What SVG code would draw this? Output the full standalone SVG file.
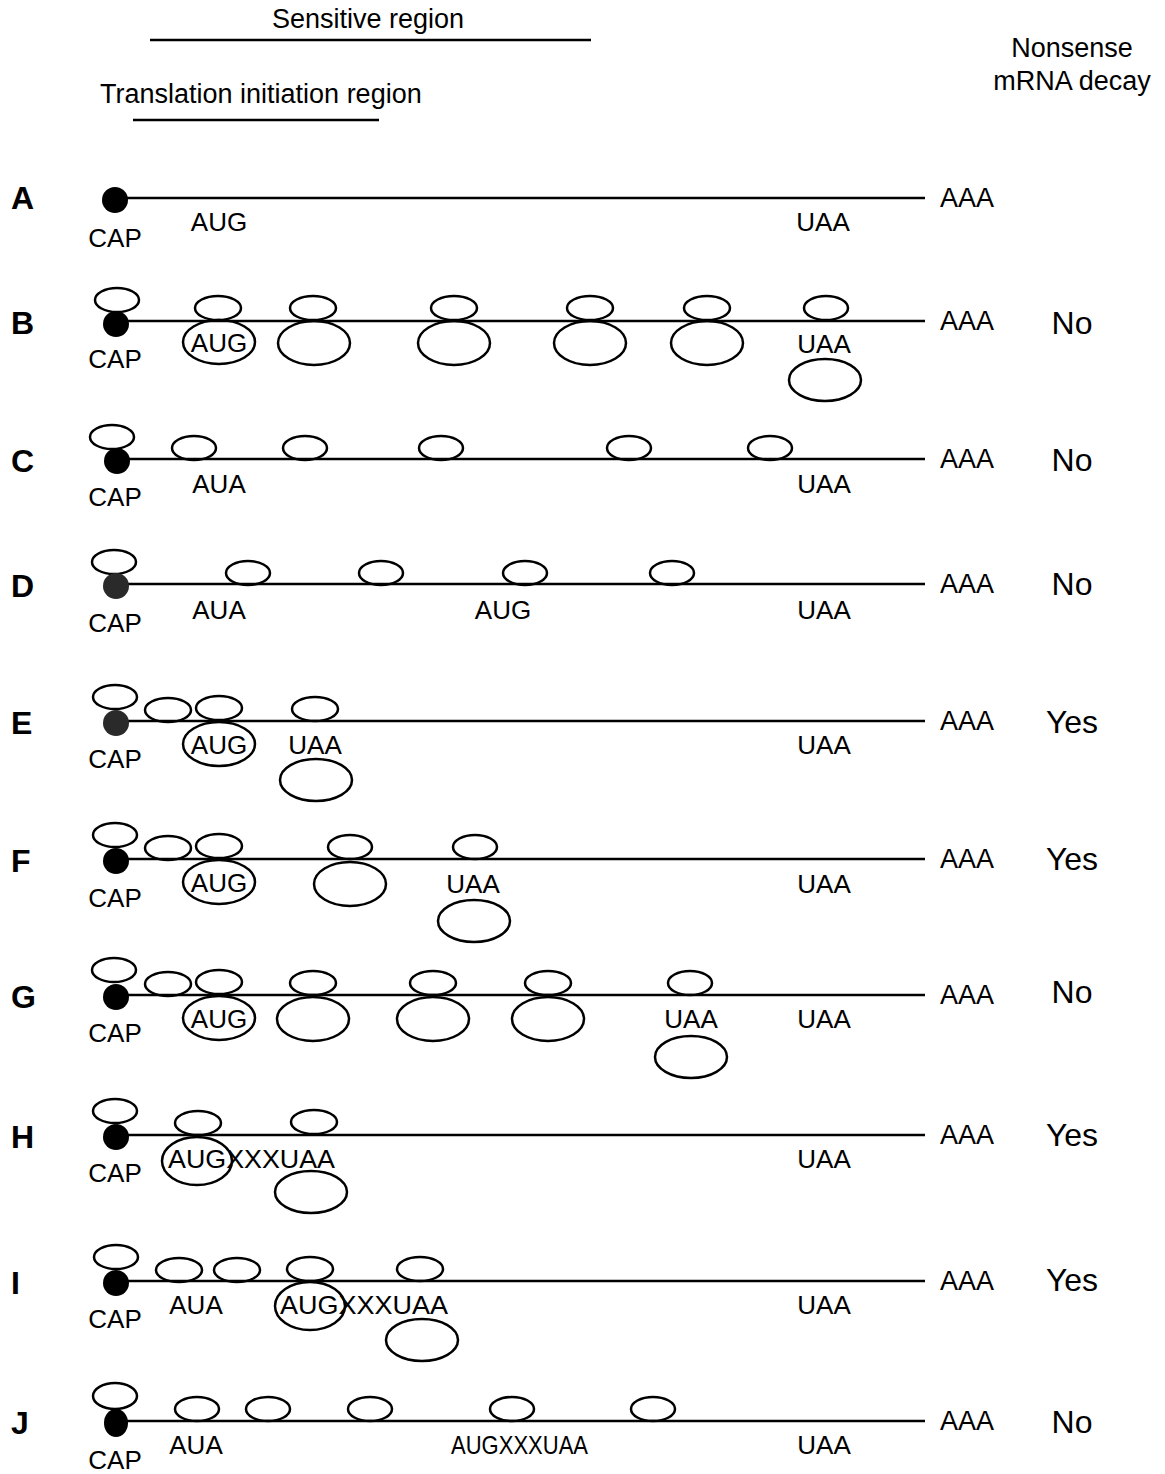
<svg xmlns="http://www.w3.org/2000/svg" width="1165" height="1474" viewBox="0 0 1165 1474">
  <style>
    text { font-family: "Liberation Sans", Arial, sans-serif; fill: #000; }
    .hd { font-size: 27px; }
    .t { font-size: 26px; }
    .ab { font-size: 27px; }
    .lab { font-size: 32px; font-weight: bold; }
    .res { font-size: 32px; }
    .mid { text-anchor: middle; }
    .rna { stroke: #000; stroke-width: 2.5; fill: none; }
    .bar { stroke: #000; stroke-width: 2.5; }
    .rib { stroke: #000; stroke-width: 2.5; fill: none; }
    .cap { fill: #000; }
    .capg { fill: #2a2a2a; }
  </style>
  <rect width="1165" height="1474" fill="#fff"/>

  <!-- header -->
  <g id="header">
    <text class="hd mid" x="368" y="28">Sensitive region</text>
    <line class="bar" x1="150" y1="40" x2="591" y2="40"/>
    <text class="hd" x="100" y="103">Translation initiation region</text>
    <line class="bar" x1="133" y1="120" x2="379" y2="120"/>
    <text class="hd mid" x="1072" y="57">Nonsense</text>
    <text class="hd mid" x="1072" y="90">mRNA decay</text>
  </g>

  <!-- mRNA strands -->
  <g id="connectors">
    <line class="rna" x1="115" y1="198" x2="925" y2="198"/>
    <line class="rna" x1="116" y1="321" x2="925" y2="321"/>
    <line class="rna" x1="117" y1="459" x2="925" y2="459"/>
    <line class="rna" x1="116" y1="584" x2="925" y2="584"/>
    <line class="rna" x1="116" y1="721" x2="925" y2="721"/>
    <line class="rna" x1="116" y1="859" x2="925" y2="859"/>
    <line class="rna" x1="116" y1="995" x2="925" y2="995"/>
    <line class="rna" x1="116" y1="1135" x2="925" y2="1135"/>
    <line class="rna" x1="116" y1="1281" x2="925" y2="1281"/>
    <line class="rna" x1="116" y1="1421" x2="925" y2="1421"/>
  </g>

  <!-- A -->
  <g id="rowA">
    <text class="lab" x="11" y="209">A</text>
    <circle class="cap" cx="115" cy="200" r="13"/>
    <text class="t mid" x="115" y="247">CAP</text>
    <text class="t mid" x="219" y="231">AUG</text>
    <text class="t mid" x="823" y="231">UAA</text>
    <text class="ab" x="940" y="207">AAA</text>
  </g>

  <!-- B -->
  <g id="rowB">
    <text class="lab" x="11" y="334">B</text>
    <ellipse class="rib" cx="117" cy="300" rx="22" ry="12"/>
    <circle class="cap" cx="116" cy="324" r="13"/>
    <text class="t mid" x="115" y="368">CAP</text>
    <ellipse class="rib" cx="218" cy="308" rx="23" ry="12"/>
    <ellipse class="rib" cx="219" cy="342" rx="36" ry="22"/>
    <text class="t mid" x="219" y="352">AUG</text>
    <ellipse class="rib" cx="313" cy="308" rx="23" ry="12"/>
    <ellipse class="rib" cx="314" cy="343" rx="36" ry="22"/>
    <ellipse class="rib" cx="454" cy="308" rx="23" ry="12"/>
    <ellipse class="rib" cx="454" cy="343" rx="36" ry="22"/>
    <ellipse class="rib" cx="590" cy="308" rx="23" ry="12"/>
    <ellipse class="rib" cx="590" cy="343" rx="36" ry="22"/>
    <ellipse class="rib" cx="707" cy="308" rx="23" ry="12"/>
    <ellipse class="rib" cx="707" cy="343" rx="36" ry="22"/>
    <ellipse class="rib" cx="826" cy="308" rx="22" ry="12"/>
    <text class="t mid" x="824" y="353">UAA</text>
    <ellipse class="rib" cx="825" cy="380" rx="36" ry="21"/>
    <text class="ab" x="940" y="330">AAA</text>
    <text class="res mid" x="1072" y="334">No</text>
  </g>

  <!-- C -->
  <g id="rowC">
    <text class="lab" x="11" y="472">C</text>
    <ellipse class="rib" cx="112" cy="437" rx="22" ry="12"/>
    <circle class="cap" cx="117" cy="461" r="13"/>
    <text class="t mid" x="115" y="506">CAP</text>
    <ellipse class="rib" cx="194" cy="448" rx="22" ry="12"/>
    <ellipse class="rib" cx="305" cy="448" rx="22" ry="12"/>
    <ellipse class="rib" cx="441" cy="448" rx="22" ry="12"/>
    <ellipse class="rib" cx="629" cy="448" rx="22" ry="12"/>
    <ellipse class="rib" cx="770" cy="448" rx="22" ry="12"/>
    <text class="t mid" x="219" y="493">AUA</text>
    <text class="t mid" x="824" y="493">UAA</text>
    <text class="ab" x="940" y="468">AAA</text>
    <text class="res mid" x="1072" y="471">No</text>
  </g>

  <!-- D -->
  <g id="rowD">
    <text class="lab" x="11" y="597">D</text>
    <ellipse class="rib" cx="114" cy="562" rx="22" ry="12"/>
    <circle class="capg" cx="116" cy="586" r="13"/>
    <text class="t mid" x="115" y="632">CAP</text>
    <ellipse class="rib" cx="248" cy="573" rx="22" ry="12"/>
    <ellipse class="rib" cx="381" cy="573" rx="22" ry="12"/>
    <ellipse class="rib" cx="525" cy="573" rx="22" ry="12"/>
    <ellipse class="rib" cx="672" cy="573" rx="22" ry="12"/>
    <text class="t mid" x="219" y="619">AUA</text>
    <text class="t mid" x="503" y="619">AUG</text>
    <text class="t mid" x="824" y="619">UAA</text>
    <text class="ab" x="940" y="593">AAA</text>
    <text class="res mid" x="1072" y="595">No</text>
  </g>

  <!-- E -->
  <g id="rowE">
    <text class="lab" x="11" y="734">E</text>
    <ellipse class="rib" cx="115" cy="697" rx="22" ry="12"/>
    <circle class="capg" cx="116" cy="723" r="13"/>
    <text class="t mid" x="115" y="768">CAP</text>
    <ellipse class="rib" cx="168" cy="710" rx="23" ry="12"/>
    <ellipse class="rib" cx="219" cy="708" rx="23" ry="12"/>
    <ellipse class="rib" cx="219" cy="744" rx="36" ry="22"/>
    <text class="t mid" x="219" y="754">AUG</text>
    <ellipse class="rib" cx="315" cy="709" rx="23" ry="12"/>
    <text class="t mid" x="315" y="754">UAA</text>
    <ellipse class="rib" cx="316" cy="780" rx="36" ry="21"/>
    <text class="t mid" x="824" y="754">UAA</text>
    <text class="ab" x="940" y="730">AAA</text>
    <text class="res mid" x="1072" y="733">Yes</text>
  </g>

  <!-- F -->
  <g id="rowF">
    <text class="lab" x="11" y="872">F</text>
    <ellipse class="rib" cx="115" cy="835" rx="22" ry="12"/>
    <circle class="cap" cx="116" cy="861" r="13"/>
    <text class="t mid" x="115" y="907">CAP</text>
    <ellipse class="rib" cx="168" cy="848" rx="23" ry="12"/>
    <ellipse class="rib" cx="219" cy="846" rx="23" ry="12"/>
    <ellipse class="rib" cx="219" cy="882" rx="36" ry="22"/>
    <text class="t mid" x="219" y="892">AUG</text>
    <ellipse class="rib" cx="350" cy="847" rx="22" ry="12"/>
    <ellipse class="rib" cx="350" cy="884" rx="36" ry="22"/>
    <ellipse class="rib" cx="475" cy="847" rx="22" ry="12"/>
    <text class="t mid" x="473" y="893">UAA</text>
    <ellipse class="rib" cx="474" cy="921" rx="36" ry="21"/>
    <text class="t mid" x="824" y="893">UAA</text>
    <text class="ab" x="940" y="868">AAA</text>
    <text class="res mid" x="1072" y="870">Yes</text>
  </g>

  <!-- G -->
  <g id="rowG">
    <text class="lab" x="11" y="1008">G</text>
    <ellipse class="rib" cx="114" cy="970" rx="22" ry="12"/>
    <circle class="cap" cx="116" cy="997" r="13"/>
    <text class="t mid" x="115" y="1042">CAP</text>
    <ellipse class="rib" cx="168" cy="984" rx="23" ry="12"/>
    <ellipse class="rib" cx="219" cy="982" rx="23" ry="12"/>
    <ellipse class="rib" cx="219" cy="1018" rx="36" ry="22"/>
    <text class="t mid" x="219" y="1028">AUG</text>
    <ellipse class="rib" cx="313" cy="983" rx="23" ry="12"/>
    <ellipse class="rib" cx="313" cy="1019" rx="36" ry="22"/>
    <ellipse class="rib" cx="433" cy="983" rx="23" ry="12"/>
    <ellipse class="rib" cx="433" cy="1019" rx="36" ry="22"/>
    <ellipse class="rib" cx="548" cy="983" rx="23" ry="12"/>
    <ellipse class="rib" cx="548" cy="1019" rx="36" ry="22"/>
    <ellipse class="rib" cx="690" cy="983" rx="22" ry="12"/>
    <text class="t mid" x="691" y="1028">UAA</text>
    <ellipse class="rib" cx="691" cy="1057" rx="36" ry="21"/>
    <text class="t mid" x="824" y="1028">UAA</text>
    <text class="ab" x="940" y="1004">AAA</text>
    <text class="res mid" x="1072" y="1003">No</text>
  </g>

  <!-- H -->
  <g id="rowH">
    <text class="lab" x="11" y="1148">H</text>
    <ellipse class="rib" cx="115" cy="1111" rx="22" ry="12"/>
    <circle class="cap" cx="116" cy="1137" r="13"/>
    <text class="t mid" x="115" y="1182">CAP</text>
    <ellipse class="rib" cx="198" cy="1123" rx="23" ry="12"/>
    <ellipse class="rib" cx="197" cy="1161" rx="35" ry="24"/>
    <ellipse class="rib" cx="314" cy="1122" rx="23" ry="12"/>
    <text class="t" x="168" y="1168" textLength="167" lengthAdjust="spacingAndGlyphs">AUGXXXUAA</text>
    <ellipse class="rib" cx="311" cy="1192" rx="36" ry="21"/>
    <text class="t mid" x="824" y="1168">UAA</text>
    <text class="ab" x="940" y="1144">AAA</text>
    <text class="res mid" x="1072" y="1146">Yes</text>
  </g>

  <!-- I -->
  <g id="rowI">
    <text class="lab" x="11" y="1294">I</text>
    <ellipse class="rib" cx="116" cy="1257" rx="22" ry="12"/>
    <circle class="cap" cx="116" cy="1283" r="13"/>
    <text class="t mid" x="115" y="1328">CAP</text>
    <ellipse class="rib" cx="179" cy="1270" rx="23" ry="12"/>
    <ellipse class="rib" cx="237" cy="1270" rx="23" ry="12"/>
    <ellipse class="rib" cx="310" cy="1269" rx="23" ry="12"/>
    <ellipse class="rib" cx="310" cy="1306" rx="35" ry="24"/>
    <ellipse class="rib" cx="420" cy="1269" rx="23" ry="12"/>
    <text class="t mid" x="196" y="1314">AUA</text>
    <text class="t" x="280" y="1314" textLength="168" lengthAdjust="spacingAndGlyphs">AUGXXXUAA</text>
    <ellipse class="rib" cx="422" cy="1340" rx="36" ry="21"/>
    <text class="t mid" x="824" y="1314">UAA</text>
    <text class="ab" x="940" y="1290">AAA</text>
    <text class="res mid" x="1072" y="1291">Yes</text>
  </g>

  <!-- J -->
  <g id="rowJ">
    <text class="lab" x="11" y="1434">J</text>
    <ellipse class="rib" cx="115" cy="1396" rx="22" ry="13"/>
    <ellipse class="cap" cx="116" cy="1423" rx="12" ry="14"/>
    <text class="t mid" x="115" y="1469">CAP</text>
    <ellipse class="rib" cx="197" cy="1409" rx="22" ry="12"/>
    <ellipse class="rib" cx="268" cy="1409" rx="22" ry="12"/>
    <ellipse class="rib" cx="370" cy="1409" rx="22" ry="12"/>
    <ellipse class="rib" cx="512" cy="1409" rx="22" ry="12"/>
    <ellipse class="rib" cx="653" cy="1409" rx="22" ry="12"/>
    <text class="t mid" x="196" y="1454">AUA</text>
    <text class="t" x="451" y="1454" textLength="137" lengthAdjust="spacingAndGlyphs">AUGXXXUAA</text>
    <text class="t mid" x="824" y="1454">UAA</text>
    <text class="ab" x="940" y="1430">AAA</text>
    <text class="res mid" x="1072" y="1433">No</text>
  </g>
</svg>
